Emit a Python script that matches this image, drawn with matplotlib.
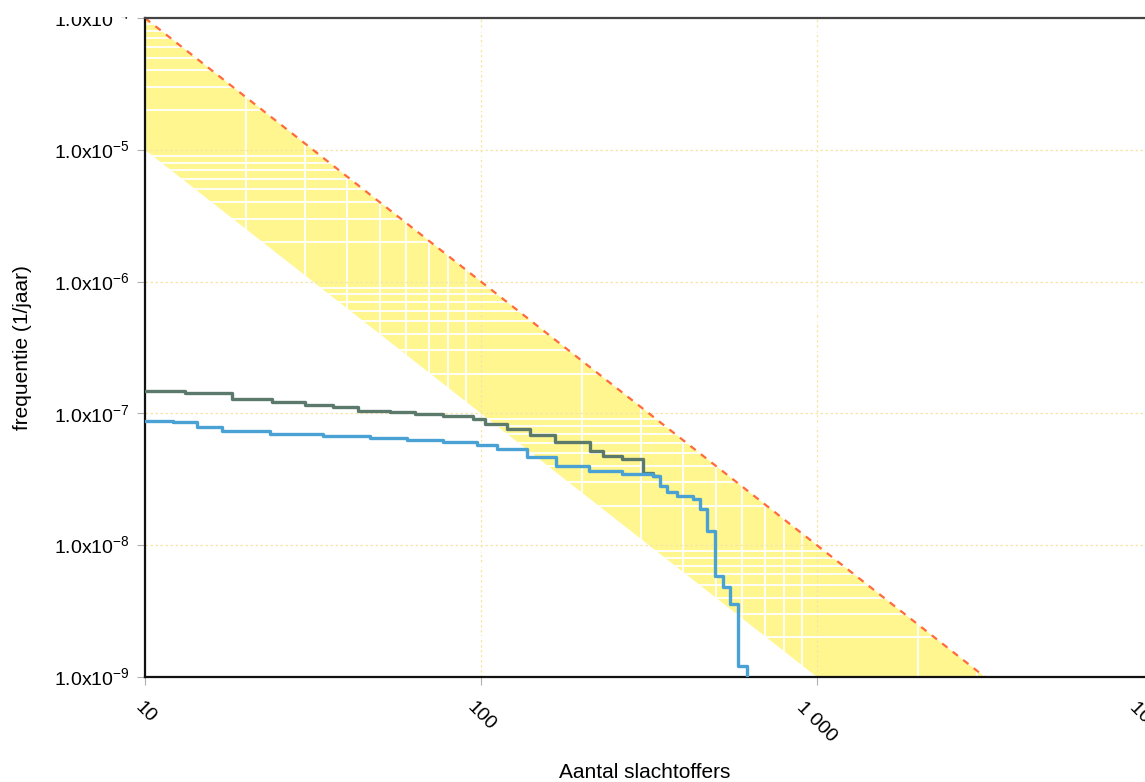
import numpy as np
import matplotlib
matplotlib.use('Agg')
import matplotlib.pyplot as plt
from matplotlib.ticker import FixedLocator, FixedFormatter, LogLocator, NullFormatter
from matplotlib.transforms import Bbox, TransformedBbox

plt.rcParams['font.family'] = ['Liberation Sans', 'DejaVu Sans']
plt.rcParams['mathtext.fontset'] = 'custom'
plt.rcParams['mathtext.rm'] = 'Liberation Sans'

# orientatiewaarde groepsrisico (band tussen twee lijnen, 2 punten per lijn)
norm_N = [10, 10000]
norm_upper = [1e-4, 1e-10]
norm_lower = [1e-5, 1e-11]

# curve 1 (grijs) - stappen
grey_N = [10, 13.2, 18.2, 23.9, 29.9, 36.3, 43.1, 53.6, 63.6, 77.1, 94.7, 102.8,
          119.5, 140, 166, 211, 231, 263, 304, 325, 335]
grey_F = [1.49e-7, 1.42e-7, 1.28e-7, 1.21e-7, 1.15e-7, 1.11e-7, 1.05e-7, 1.02e-7,
          9.83e-8, 9.49e-8, 9.01e-8, 8.26e-8, 7.57e-8, 6.81e-8, 6.03e-8, 5.15e-8,
          4.72e-8, 4.48e-8, 3.51e-8, 3.36e-8, 3.36e-8]

# curve 2 (blauw) - stappen
blue_N = [10, 12.1, 14.3, 16.9, 23.6, 33.9, 46.8, 60.2, 77.1, 97.3, 111.6, 137,
          167, 209, 263, 325, 341, 358, 383, 428, 449, 471, 497, 525, 551, 582, 619, 619]
blue_F = [8.69e-8, 8.55e-8, 7.83e-8, 7.31e-8, 6.94e-8, 6.70e-8, 6.47e-8, 6.24e-8,
          6.03e-8, 5.72e-8, 5.34e-8, 4.64e-8, 3.97e-8, 3.64e-8, 3.45e-8, 3.33e-8,
          2.80e-8, 2.52e-8, 2.35e-8, 2.23e-8, 1.87e-8, 1.28e-8, 5.82e-9, 4.81e-9,
          3.57e-9, 1.21e-9, 1.21e-9, 5e-10]

x_ticks = [10, 100, 1000, 10000]
x_tick_labels = ['10', '100', '1 000', '10 000']
y_ticks = [1e-9, 1e-8, 1e-7, 1e-6, 1e-5, 1e-4]
y_tick_labels = [r'1.0x10$^{\mathregular{-9}}$', r'1.0x10$^{\mathregular{-8}}$',
                 r'1.0x10$^{\mathregular{-7}}$', r'1.0x10$^{\mathregular{-6}}$',
                 r'1.0x10$^{\mathregular{-5}}$', r'1.0x10$^{\mathregular{-4}}$']

fig = plt.figure(figsize=(11.45, 7.82), dpi=100)
ax = fig.add_axes([0.1266, 0.1343, 0.8803, 0.8427])
ax.set_xscale('log')
ax.set_yscale('log')
ax.set_xlim(10, 10000)
ax.set_ylim(1e-9, 1e-4)

ax.fill_between(norm_N, norm_lower, norm_upper, color='#fff68f', lw=0, zorder=1)
ax.plot(norm_N, norm_upper, color='#ff6a3d', lw=1.6, ls=(0, (3, 3)), zorder=2)

ax.plot(grey_N, grey_F, drawstyle='steps-post', color='#5b7a6c', lw=2.4, zorder=3)
ax.plot(blue_N, blue_F, drawstyle='steps-post', color='#4aa2d4', lw=2.4, zorder=4)

ax.xaxis.set_major_locator(FixedLocator(x_ticks))
ax.xaxis.set_major_formatter(FixedFormatter(x_tick_labels))
ax.yaxis.set_major_locator(FixedLocator(y_ticks))
ax.yaxis.set_major_formatter(FixedFormatter(y_tick_labels))
ax.xaxis.set_minor_locator(LogLocator(base=10, subs=np.arange(2, 10), numticks=20))
ax.yaxis.set_minor_locator(LogLocator(base=10, subs=np.arange(2, 10), numticks=20))
ax.xaxis.set_minor_formatter(NullFormatter())
ax.yaxis.set_minor_formatter(NullFormatter())

ax.set_axisbelow('line')
ax.grid(which='major', color='#f3e6a8', ls=(0, (2, 2)), lw=0.9)
ax.grid(which='minor', color='white', lw=1.3)

ax.tick_params(which='major', length=6, width=0.8, color='#b0b0b0', labelsize=14)
ax.tick_params(which='minor', length=0)
ax.tick_params(axis='y', pad=5)
ax.tick_params(axis='x', pad=10)
for lab in ax.get_xticklabels():
    lab.set_rotation(-45)
    lab.set_ha('center')
    lab.set_va('top')

# bovenste label is in het origineel half afgesneden
clip = TransformedBbox(Bbox([[0, 0], [1, (782 - 17) / 782]]), fig.transFigure)
top_lab = ax.get_yticklabels()[-1]
top_lab.set_clip_box(clip)
top_lab.set_clip_on(True)

for s in ['left', 'bottom']:
    ax.spines[s].set_color('#111111')
    ax.spines[s].set_linewidth(1.6)
ax.spines['top'].set_color('#444444')
ax.spines['top'].set_linewidth(1.6)
ax.spines['right'].set_visible(False)

ax.set_xlabel('Aantal slachtoffers', fontsize=15)
ax.xaxis.set_label_coords(0.496, -0.13)
ax.set_ylabel('frequentie (1/jaar)', fontsize=15)
ax.yaxis.set_label_coords(-0.112, 0.5)

fig.savefig('out.png', dpi=100)
